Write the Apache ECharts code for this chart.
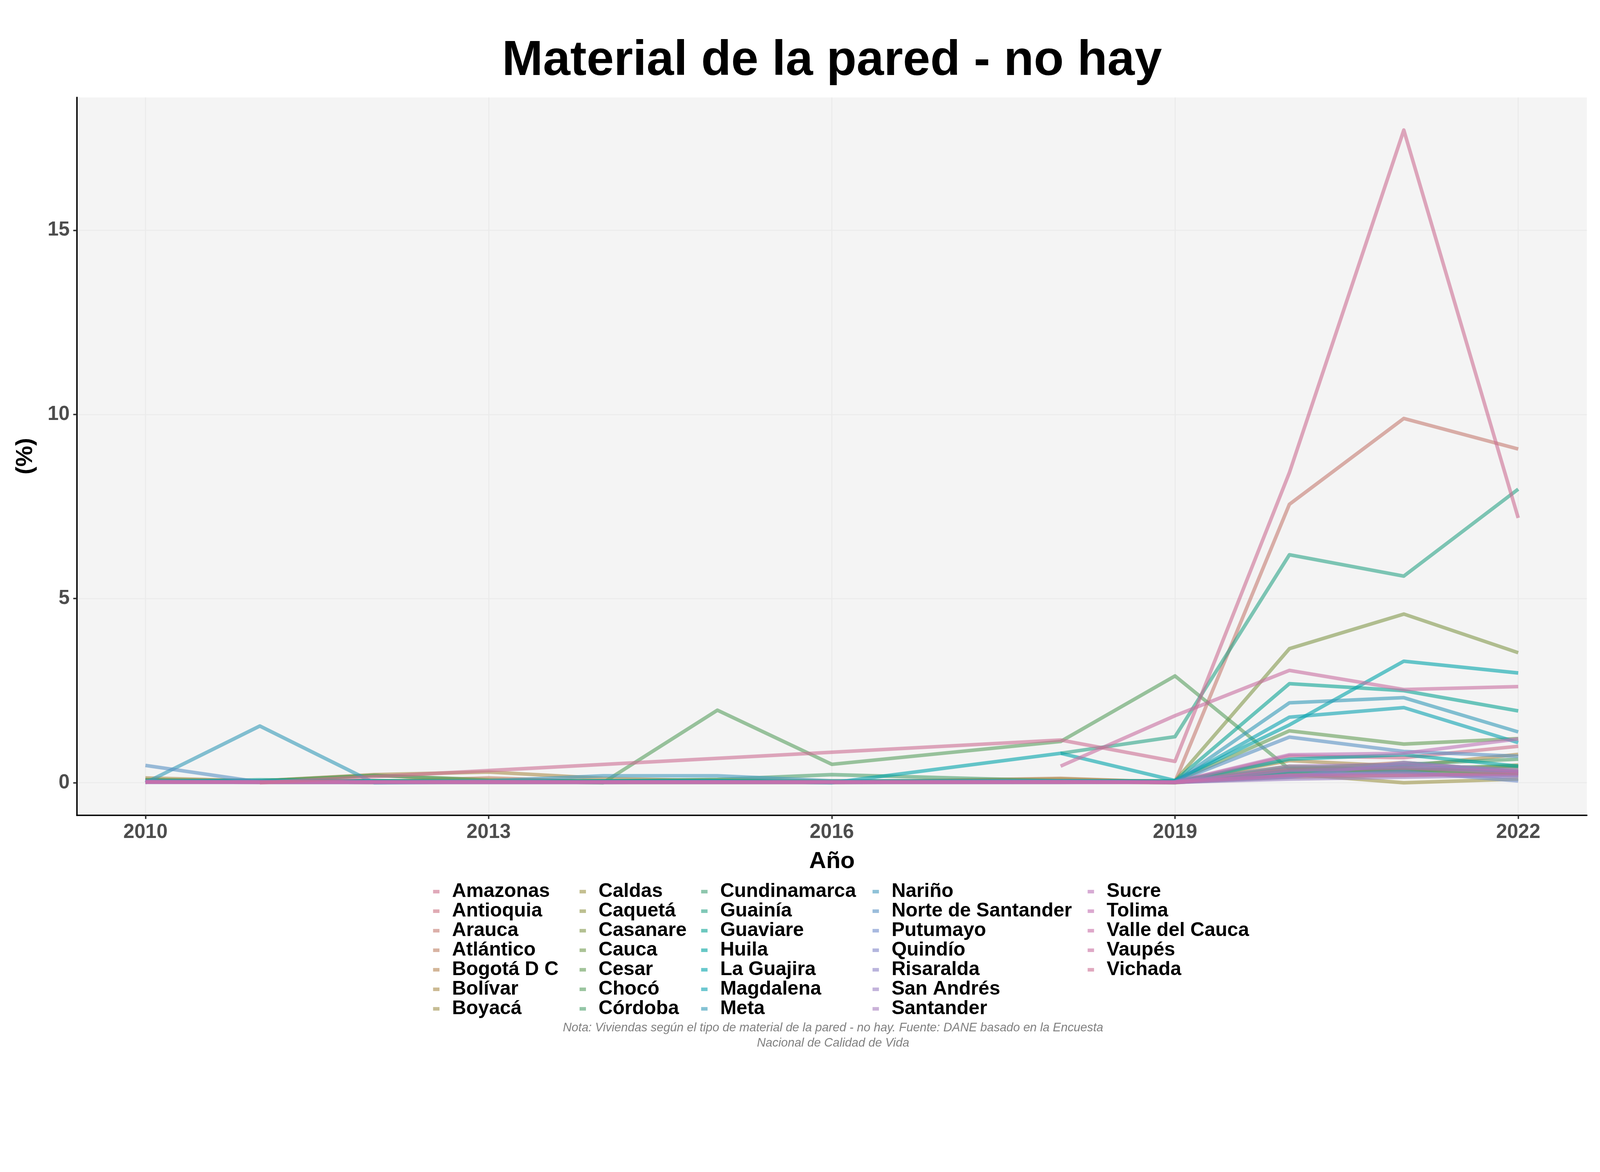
<!DOCTYPE html>
<html><head><meta charset="utf-8">
<script src="https://cdn.jsdelivr.net/npm/echarts@6/dist/echarts.min.js"></script>
<style>html,body{margin:0;padding:0;background:#fff;overflow:hidden}#c{width:100vw;height:66.6667vw}</style>
</head><body><div id="c"></div>
<script>
// ---- data ----
const years = [2010, 2011, 2012, 2013, 2014, 2015, 2016, 2018, 2019, 2020, 2021, 2022];
const xTicks = [2010, 2013, 2016, 2019, 2022];
const yTicks = [0, 5, 10, 15];

const departments = ["Amazonas","Antioquia","Arauca","Atlántico","Bogotá D C","Bolívar","Boyacá",
  "Caldas","Caquetá","Casanare","Cauca","Cesar","Chocó","Córdoba",
  "Cundinamarca","Guainía","Guaviare","Huila","La Guajira","Magdalena","Meta",
  "Nariño","Norte de Santander","Putumayo","Quindío","Risaralda","San Andrés","Santander",
  "Sucre","Tolima","Valle del Cauca","Vaupés","Vichada"];

const amazonas      = [0.02, 0.01, 0.01, 0.01, 0.01, 0.01, 0.01, 0.02, 0.01, 0.73, 0.68, 0.99];
const antioquia     = [0.03, 0.02, 0.01, 0.02, 0.01, 0.02, 0.01, 0.02, 0.01, 0.25, 0.30, 0.20];
const arauca        = [0.05, 0.02, 0.01, 0.01, 0.01, 0.01, 0.01, 0.01, 0.03, 7.56, 9.89, 9.06];
const atlantico     = [0.08, 0.05, 0.03, 0.13, 0.03, 0.02, 0.02, 0.05, 0.02, 0.35, 0.55, 0.30];
const bogota        = [0.05, 0.02, 0.01, 0.02, 0.01, 0.01, 0.01, 0.12, 0.01, 0.15, 0.20, 0.25];
const bolivar       = [0.13, 0.05, 0.22, 0.29, 0.12, 0.05, 0.03, 0.10, 0.02, 0.60, 0.45, 0.77];
const boyaca        = [0.03, 0.02, 0.02, 0.03, 0.02, 0.02, 0.01, 0.05, 0.01, 0.30, 0.35, 0.30];
const caldas        = [0.02, 0.02, 0.02, 0.02, 0.02, 0.02, 0.01, 0.03, 0.00, 0.24, 0.00, 0.10];
const caqueta       = [0.05, 0.03, 0.05, 0.05, 0.03, 0.05, 0.03, 0.05, 0.02, 0.40, 0.30, 0.48];
const casanare      = [0.05, 0.02, 0.05, 0.03, 0.02, 0.03, 0.02, 0.05, 0.05, 3.64, 4.58, 3.53];
const cauca         = [0.08, 0.05, 0.20, 0.08, 0.05, 0.08, 0.05, 0.05, 0.03, 0.45, 0.35, 0.40];
const cesar         = [0.05, 0.02, 0.05, 0.02, 0.03, 0.05, 0.03, 0.05, 0.03, 1.41, 1.05, 1.20];
const choco         = [0.08, 0.05, 0.20, 0.06, 0.00, 1.97, 0.50, 1.12, 2.90, 0.37, 0.40, 0.45];
const cordoba       = [0.05, 0.05, 0.05, 0.05, 0.05, 0.09, 0.22, 0.05, 0.03, 0.40, 0.50, 0.64];
const cundinamarca  = [0.03, 0.02, 0.02, 0.02, 0.02, 0.02, 0.02, 0.03, 0.01, 0.30, 0.35, 0.25];
const guainia       = [null, null, null, null, null, null, null, 0.80, 1.25, 6.19, 5.61, 7.97];
const guaviare      = [0.03, 0.08, 0.05, 0.03, 0.03, 0.05, 0.03, 0.05, 0.05, 2.69, 2.50, 1.95];
const huila         = [0.03, 0.02, 0.03, 0.02, 0.02, 0.03, 0.02, 0.03, 0.02, 0.64, 0.76, 0.45];
const laGuajira     = [0.03, 0.02, 0.02, 0.02, 0.05, 0.05, 0.00, 0.80, 0.06, 1.57, 3.30, 2.98];
const magdalena     = [0.03, 0.03, 0.03, 0.02, 0.02, 0.03, 0.02, 0.03, 0.03, 1.78, 2.04, 1.09];
const meta          = [0.00, 1.54, 0.00, 0.02, 0.02, 0.03, 0.02, 0.03, 0.02, 2.17, 2.31, 1.38];
const narino        = [0.05, 0.05, 0.03, 0.05, 0.19, 0.19, 0.05, 0.05, 0.03, 0.30, 0.45, 0.30];
const norteSantander= [0.47, 0.02, 0.02, 0.02, 0.03, 0.03, 0.02, 0.03, 0.02, 1.24, 0.85, 0.72];
const putumayo      = [0.02, 0.02, 0.02, 0.02, 0.02, 0.02, 0.02, 0.02, 0.01, 0.20, 0.30, 0.05];
const quindio       = [0.02, 0.02, 0.01, 0.02, 0.01, 0.02, 0.01, 0.02, 0.01, 0.15, 0.55, 0.30];
const risaralda     = [0.02, 0.01, 0.01, 0.01, 0.01, 0.01, 0.01, 0.01, 0.01, 0.20, 0.25, 0.15];
const sanAndres     = [0.01, 0.01, 0.01, 0.01, 0.01, 0.01, 0.01, 0.01, 0.01, 0.10, 0.15, 0.20];
const santander     = [0.02, 0.02, 0.02, 0.02, 0.02, 0.02, 0.02, 0.02, 0.01, 0.45, 0.50, 0.35];
const sucre         = [0.03, 0.02, 0.02, 0.03, 0.02, 0.02, 0.02, 0.03, 0.02, 0.76, 0.80, 1.19];
const tolima        = [0.02, 0.02, 0.02, 0.02, 0.02, 0.02, 0.02, 0.02, 0.01, 0.35, 0.40, 0.30];
const valle         = [0.02, 0.02, 0.02, 0.02, 0.02, 0.02, 0.02, 0.02, 0.01, 0.20, 0.20, 0.25];
const vaupes        = [null, null, null, null, null, null, null, 0.45, 1.82, 3.05, 2.53, 2.61];
const vichada       = [null, 0.00, null, null, null, null, null, 1.16, 0.58, 8.42, 17.72, 7.19];

const seriesValues = [amazonas, antioquia, arauca, atlantico, bogota, bolivar, boyaca,
  caldas, caqueta, casanare, cauca, cesar, choco, cordoba,
  cundinamarca, guainia, guaviare, huila, laGuajira, magdalena, meta,
  narino, norteSantander, putumayo, quindio, risaralda, sanAndres, santander,
  sucre, tolima, valle, vaupes, vichada];

const colors = [
  "rgba(203,112,140,0.6)","rgba(203,115,130,0.6)","rgba(197,123,113,0.6)","rgba(190,128,100,0.6)",
  "rgba(182,133,83,0.6)","rgba(170,140,75,0.6)","rgba(160,145,77,0.6)",
  "rgba(157,148,72,0.6)","rgba(145,150,72,0.6)","rgba(130,152,75,0.6)","rgba(115,155,80,0.6)",
  "rgba(100,157,87,0.6)","rgba(88,158,95,0.6)","rgba(77,160,108,0.6)",
  "rgba(67,160,118,0.6)","rgba(43,163,135,0.6)","rgba(12,163,148,0.6)","rgba(0,163,160,0.6)",
  "rgba(2,163,170,0.6)","rgba(12,162,177,0.6)","rgba(52,153,183,0.6)",
  "rgba(68,153,190,0.6)","rgba(88,145,195,0.6)","rgba(112,140,203,0.6)","rgba(128,133,200,0.6)",
  "rgba(140,130,197,0.6)","rgba(155,128,195,0.6)","rgba(167,127,190,0.6)",
  "rgba(188,115,183,0.6)","rgba(195,112,177,0.6)","rgba(200,110,167,0.6)","rgba(200,110,160,0.6)",
  "rgba(203,110,147,0.6)"];

const FONT = "Liberation Sans";
const el = document.getElementById('c');
const S = el.clientWidth / 4500;   // layout designed on a 4500x3000 canvas
const p = v => v * S;

const series = departments.map((name, i) => ({
  name: name,
  type: 'line',
  showSymbol: false,
  symbol: 'none',
  color: colors[i],
  lineStyle: { width: p(10), color: colors[i], cap: 'butt', join: 'round' },
  itemStyle: { color: colors[i] },
  emphasis: { disabled: true },
  silent: true,
  data: years.map((y, j) => [y, seriesValues[i][j]]).filter(d => d[1] !== null)
}));

// legends: 5 columns, 7 rows each
const legendLefts = [1218, 1630, 1972, 2454, 3059];
const legends = legendLefts.map((lx, c) => ({
  orient: 'vertical',
  left: p(lx),
  top: p(2480),
  padding: 0,
  itemWidth: p(18),
  itemHeight: p(10),
  itemGap: 0,
  icon: 'rect',
  selectedMode: false,
  itemStyle: { borderWidth: 0 },
  textStyle: { fontFamily: FONT, fontSize: p(55), fontWeight: 'bold', color: '#000', lineHeight: p(53), padding: [0, 0, 0, p(30)] },
  data: departments.slice(c * 7, c * 7 + 7)
}));

const chart = echarts.init(el);
chart.setOption({
  animation: false,
  backgroundColor: '#ffffff',
  grid: { left: p(216), width: p(4463 - 216), top: p(274), height: p(2293 - 274), show: true, backgroundColor: '#F4F4F4', borderWidth: 0, containLabel: false },
  legend: legends,
  xAxis: {
    type: 'value', min: 2009.4, max: 2022.6,
    axisLine: { show: true, onZero: false, lineStyle: { color: '#000', width: p(4) } },
    axisTick: { show: true, length: p(10), lineStyle: { color: '#333', width: p(4) }, customValues: xTicks },
    axisLabel: { customValues: xTicks, formatter: v => String(v), fontFamily: FONT, fontSize: p(56), fontWeight: 'bold', color: '#4D4D4D', margin: p(20) },
    splitLine: { show: true, lineStyle: { color: '#EBEBEB', width: p(3) } }
  },
  yAxis: {
    type: 'value', min: -0.886, max: 18.606,
    axisLine: { show: true, onZero: false, lineStyle: { color: '#000', width: p(4) } },
    axisTick: { show: true, length: p(10), lineStyle: { color: '#333', width: p(4) }, customValues: yTicks },
    axisLabel: { customValues: yTicks, formatter: v => String(v), fontFamily: FONT, fontSize: p(56), fontWeight: 'bold', color: '#4D4D4D', margin: p(20) },
    splitLine: { show: true, lineStyle: { color: '#EBEBEB', width: p(3) } }
  },
  graphic: [
    { type: 'text', x: p(2340), y: p(173), style: { text: 'Material de la pared - no hay', fontFamily: FONT, fontSize: p(138), fontWeight: 'bold', fill: '#000', align: 'center', verticalAlign: 'middle' } },
    { type: 'text', x: p(2340), y: p(2423), style: { text: 'Año', fontFamily: FONT, fontSize: p(66), fontWeight: 'bold', fill: '#000', align: 'center', verticalAlign: 'middle' } },
    { type: 'text', x: p(72), y: p(1283), rotation: Math.PI / 2, style: { text: '(%)', fontFamily: FONT, fontSize: p(66), fontWeight: 'bold', fill: '#000', align: 'center', verticalAlign: 'middle' } },
    { type: 'text', x: p(2343), y: p(2891), style: { text: 'Nota: Viviendas según el tipo de material de la pared - no hay. Fuente: DANE basado en la Encuesta', fontFamily: FONT, fontSize: p(34), fontStyle: 'italic', fill: '#808080', align: 'center', verticalAlign: 'middle' } },
    { type: 'text', x: p(2343), y: p(2934), style: { text: 'Nacional de Calidad de Vida', fontFamily: FONT, fontSize: p(34), fontStyle: 'italic', fill: '#808080', align: 'center', verticalAlign: 'middle' } }
  ],
  series: series
});
</script>
</body></html>
